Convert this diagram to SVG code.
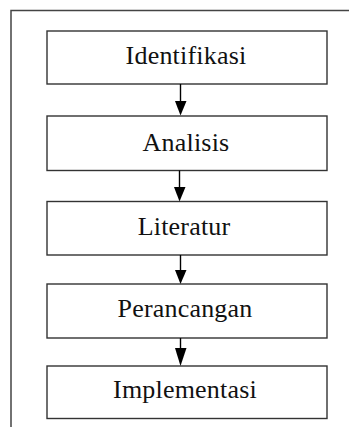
<svg xmlns="http://www.w3.org/2000/svg" width="349" height="427" viewBox="0 0 349 427">
<defs>
<style>
.box{fill:#fff;stroke:#333;stroke-width:1.4}
.lbl{font-family:"Liberation Serif","Times New Roman",serif;font-size:26px;letter-spacing:0.2px;fill:#111;text-anchor:middle}
.conn{stroke:#000;stroke-width:1.4;fill:none}
.head{fill:#000}
</style>
</defs>
<rect width="349" height="427" fill="#fff"/>
<path d="M11,427 V10.5 H349" fill="none" stroke="#444" stroke-width="1.5"/>
<g id="n1"><rect class="box" x="47" y="31" width="280" height="53"/><text class="lbl" x="186" y="64">Identifikasi</text></g>
<g id="n2"><rect class="box" x="47" y="116" width="280" height="54.5"/><text class="lbl" x="186" y="151">Analisis</text></g>
<g id="n3"><rect class="box" x="47" y="201.5" width="280" height="53.5"/><text class="lbl" x="184" y="235">Literatur</text></g>
<g id="n4"><rect class="box" x="47" y="284" width="280" height="54"/><text class="lbl" x="185" y="317">Perancangan</text></g>
<g id="n5"><rect class="box" x="47" y="366" width="280" height="52.5"/><text class="lbl" x="185" y="398">Implementasi</text></g>
<g id="connectors">
<line class="conn" x1="180.5" y1="84" x2="180.5" y2="102"/>
<polygon class="head" points="175,101 186.5,101 180.5,115.5"/>
<line class="conn" x1="179.5" y1="170.5" x2="179.5" y2="188"/>
<polygon class="head" points="174,187 185.5,187 179.5,201.5"/>
<line class="conn" x1="180.5" y1="255" x2="180.5" y2="271"/>
<polygon class="head" points="175,270 186.5,270 180.5,284"/>
<line class="conn" x1="180.5" y1="338" x2="180.5" y2="349"/>
<polygon class="head" points="175,348 186.5,348 180.5,366"/>
</g>
</svg>
